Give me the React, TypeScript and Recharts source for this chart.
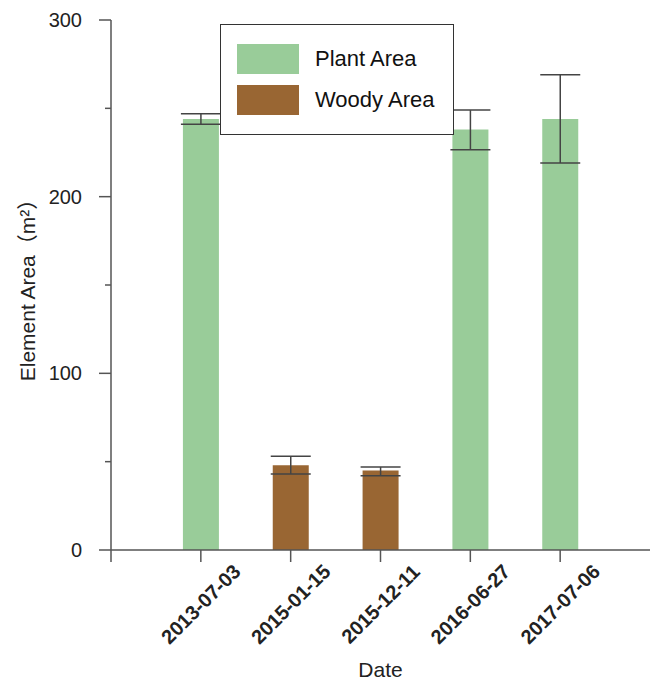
import { Bar, BarChart, Cell, ErrorBar, Label, Legend, XAxis, YAxis } from "recharts"

// sampling dates (x categories, drawn at positions 1..5 on a 0..6 axis)
const dates = ["2013-07-03", "2015-01-15", "2015-12-11", "2016-06-27", "2017-07-06"]
const positions = [1, 2, 3, 4, 5]
const kinds = ["Plant Area", "Woody Area", "Woody Area", "Plant Area", "Plant Area"]
const areaValues = [244, 48, 45, 238, 244]
const errLower = [3, 5, 3, 11.5, 25]
const errUpper = [3, 5, 2, 11, 25]

const seriesNames = ["Plant Area", "Woody Area"]
const seriesColors = ["#99CC99", "#996633"]

const xTicks = [0, 1, 2, 3, 4, 5]
const yTicks = [0, 50, 100, 150, 200, 250, 300]
const yMajor = [0, 100, 200, 300]

const FONT = "'Liberation Sans', Arial, 'Noto Sans CJK SC', sans-serif"
const AXIS = "#555"

const data = dates.map((d, i) => ({
  pos: positions[i],
  date: d,
  kind: kinds[i],
  value: areaValues[i],
  err: [errLower[i], errUpper[i]],
}))

const colorOf = (kind: string) => seriesColors[seriesNames.indexOf(kind)]

function DateTick({ x, y, payload }: any) {
  const label = dates[positions.indexOf(payload.value)]
  if (!label) return null
  const cy = y + 40
  return (
    <text
      x={x}
      y={cy}
      textAnchor="middle"
      dominantBaseline="central"
      transform={`rotate(-45, ${x}, ${cy})`}
      fontFamily={FONT}
      fontSize={20}
      fontWeight="bold"
      fill="#222"
    >
      {label}
    </text>
  )
}

function AreaTick({ x, y, payload }: any) {
  const major = yMajor.includes(payload.value)
  return (
    <g>
      <line x1={x - (major ? 12 : 6)} x2={x} y1={y} y2={y} stroke={AXIS} strokeWidth={1.5} />
      {major && (
        <text x={x - 29} y={y} textAnchor="end" dominantBaseline="central" fontFamily={FONT} fontSize={20} fill="#222">
          {payload.value}
        </text>
      )}
    </g>
  )
}

function LegendBox() {
  return (
    <div
      style={{
        width: 234,
        height: 111,
        boxSizing: "border-box",
        border: "1.5px solid #333",
        background: "#fff",
        position: "relative",
        fontFamily: FONT,
      }}
    >
      {seriesNames.map((name, i) => (
        <div key={name} style={{ position: "absolute", left: 16, top: 19 + i * 41, display: "flex", alignItems: "center" }}>
          <div style={{ width: 62, height: 30, background: seriesColors[i] }} />
          <span style={{ marginLeft: 16, fontSize: 22, color: "#111" }}>{name}</span>
        </div>
      ))}
    </div>
  )
}

export default function App() {
  return (
    <div style={{ position: "absolute", left: 0, top: 0, background: "#fff" }}>
      <BarChart width={650} height={681} data={data} margin={{ top: 20, right: 0, bottom: 0, left: 0 }}>
        <XAxis
          type="number"
          dataKey="pos"
          domain={[0, 6]}
          ticks={xTicks}
          interval={0}
          height={131}
          tickSize={12}
          tickMargin={2}
          stroke={AXIS}
          strokeWidth={1.5}
          tick={<DateTick />}
        >
          <Label value="Date" position="insideBottom" offset={4} style={{ fontFamily: FONT, fontSize: 21, fill: "#222" }} />
        </XAxis>
        <YAxis
          type="number"
          domain={[0, 300]}
          ticks={yTicks}
          interval={0}
          width={111}
          tickSize={0}
          tickMargin={0}
          tickLine={false}
          stroke={AXIS}
          strokeWidth={1.5}
          tick={<AreaTick />}
        >
          <Label
            content={({ viewBox }: any) => {
              const cx = viewBox.x + 27
              const cy = viewBox.y + viewBox.height / 2
              return (
                <text
                  x={cx}
                  y={cy}
                  textAnchor="middle"
                  dominantBaseline="central"
                  transform={`rotate(-90, ${cx}, ${cy})`}
                  fontFamily={FONT}
                  fontSize={21}
                  fill="#222"
                >
                  Element Area（m²）
                </text>
              )
            }}
          />
        </YAxis>
        <Legend
          layout="vertical"
          align="center"
          verticalAlign="middle"
          content={() => <LegendBox />}
          wrapperStyle={{ position: "absolute", left: 220, top: 24, width: 234, height: 111 }}
        />
        <Bar dataKey="value" barSize={36} isAnimationActive={false}>
          {data.map((d, i) => (
            <Cell key={`cell-${i}`} fill={colorOf(d.kind)} />
          ))}
          <ErrorBar dataKey="err" width={20} stroke="#444" strokeWidth={1.5} direction="y" />
        </Bar>
      </BarChart>
    </div>
  )
}
